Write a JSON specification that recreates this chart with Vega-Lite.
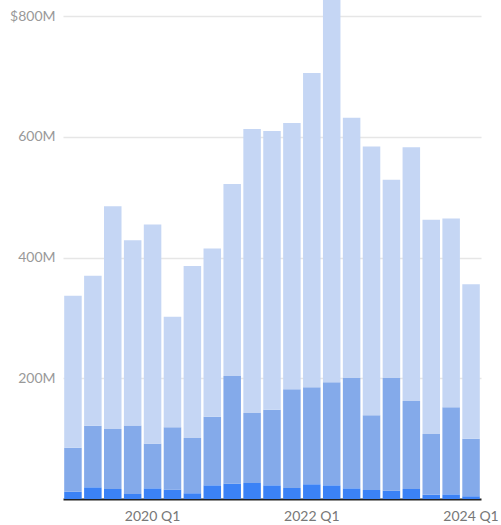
{
  "$schema": "https://vega.github.io/schema/vega-lite/v6.json",
  "autosize": {"type": "none"},
  "padding": {"left": 63, "top": 0, "right": 20, "bottom": 26},
  "width": 418,
  "height": 499,
  "config": {
    "view": {"stroke": null},
    "font": "Lato"
  },
  "datasets": {
    "rows": [
      {"quarter": "2019 Q1", "segment": "c", "rank": 1, "value": 12},
      {"quarter": "2019 Q1", "segment": "b", "rank": 2, "value": 73},
      {"quarter": "2019 Q1", "segment": "a", "rank": 3, "value": 252},
      {"quarter": "2019 Q2", "segment": "c", "rank": 1, "value": 19.4},
      {"quarter": "2019 Q2", "segment": "b", "rank": 2, "value": 102.1},
      {"quarter": "2019 Q2", "segment": "a", "rank": 3, "value": 248.5},
      {"quarter": "2019 Q3", "segment": "c", "rank": 1, "value": 16.6},
      {"quarter": "2019 Q3", "segment": "b", "rank": 2, "value": 99.4},
      {"quarter": "2019 Q3", "segment": "a", "rank": 3, "value": 369},
      {"quarter": "2019 Q4", "segment": "c", "rank": 1, "value": 8.3},
      {"quarter": "2019 Q4", "segment": "b", "rank": 2, "value": 113.7},
      {"quarter": "2019 Q4", "segment": "a", "rank": 3, "value": 307},
      {"quarter": "2020 Q1", "segment": "c", "rank": 1, "value": 17.7},
      {"quarter": "2020 Q1", "segment": "b", "rank": 2, "value": 74},
      {"quarter": "2020 Q1", "segment": "a", "rank": 3, "value": 363.3},
      {"quarter": "2020 Q2", "segment": "c", "rank": 1, "value": 15.5},
      {"quarter": "2020 Q2", "segment": "b", "rank": 2, "value": 103.5},
      {"quarter": "2020 Q2", "segment": "a", "rank": 3, "value": 183},
      {"quarter": "2020 Q3", "segment": "c", "rank": 1, "value": 9.4},
      {"quarter": "2020 Q3", "segment": "b", "rank": 2, "value": 91.6},
      {"quarter": "2020 Q3", "segment": "a", "rank": 3, "value": 285},
      {"quarter": "2020 Q4", "segment": "c", "rank": 1, "value": 22.7},
      {"quarter": "2020 Q4", "segment": "b", "rank": 2, "value": 113.8},
      {"quarter": "2020 Q4", "segment": "a", "rank": 3, "value": 278.5},
      {"quarter": "2021 Q1", "segment": "c", "rank": 1, "value": 25.4},
      {"quarter": "2021 Q1", "segment": "b", "rank": 2, "value": 178.6},
      {"quarter": "2021 Q1", "segment": "a", "rank": 3, "value": 318},
      {"quarter": "2021 Q2", "segment": "c", "rank": 1, "value": 26.5},
      {"quarter": "2021 Q2", "segment": "b", "rank": 2, "value": 116.1},
      {"quarter": "2021 Q2", "segment": "a", "rank": 3, "value": 470.4},
      {"quarter": "2021 Q3", "segment": "c", "rank": 1, "value": 22.7},
      {"quarter": "2021 Q3", "segment": "b", "rank": 2, "value": 125.3},
      {"quarter": "2021 Q3", "segment": "a", "rank": 3, "value": 462},
      {"quarter": "2021 Q4", "segment": "c", "rank": 1, "value": 18.2},
      {"quarter": "2021 Q4", "segment": "b", "rank": 2, "value": 163.8},
      {"quarter": "2021 Q4", "segment": "a", "rank": 3, "value": 441},
      {"quarter": "2022 Q1", "segment": "c", "rank": 1, "value": 24.4},
      {"quarter": "2022 Q1", "segment": "b", "rank": 2, "value": 160.6},
      {"quarter": "2022 Q1", "segment": "a", "rank": 3, "value": 521},
      {"quarter": "2022 Q2", "segment": "c", "rank": 1, "value": 22.7},
      {"quarter": "2022 Q2", "segment": "b", "rank": 2, "value": 170.8},
      {"quarter": "2022 Q2", "segment": "a", "rank": 3, "value": 666.5},
      {"quarter": "2022 Q3", "segment": "c", "rank": 1, "value": 17.7},
      {"quarter": "2022 Q3", "segment": "b", "rank": 2, "value": 182.9},
      {"quarter": "2022 Q3", "segment": "a", "rank": 3, "value": 431.4},
      {"quarter": "2022 Q4", "segment": "c", "rank": 1, "value": 15},
      {"quarter": "2022 Q4", "segment": "b", "rank": 2, "value": 124},
      {"quarter": "2022 Q4", "segment": "a", "rank": 3, "value": 445},
      {"quarter": "2023 Q1", "segment": "c", "rank": 1, "value": 13.8},
      {"quarter": "2023 Q1", "segment": "b", "rank": 2, "value": 186.8},
      {"quarter": "2023 Q1", "segment": "a", "rank": 3, "value": 328.4},
      {"quarter": "2023 Q2", "segment": "c", "rank": 1, "value": 16.6},
      {"quarter": "2023 Q2", "segment": "b", "rank": 2, "value": 145.9},
      {"quarter": "2023 Q2", "segment": "a", "rank": 3, "value": 420.5},
      {"quarter": "2023 Q3", "segment": "c", "rank": 1, "value": 7.2},
      {"quarter": "2023 Q3", "segment": "b", "rank": 2, "value": 100.6},
      {"quarter": "2023 Q3", "segment": "a", "rank": 3, "value": 355.2},
      {"quarter": "2023 Q4", "segment": "c", "rank": 1, "value": 7.7},
      {"quarter": "2023 Q4", "segment": "b", "rank": 2, "value": 144.3},
      {"quarter": "2023 Q4", "segment": "a", "rank": 3, "value": 313},
      {"quarter": "2024 Q1", "segment": "c", "rank": 1, "value": 4.4},
      {"quarter": "2024 Q1", "segment": "b", "rank": 2, "value": 95.6},
      {"quarter": "2024 Q1", "segment": "a", "rank": 3, "value": 256}
    ]
  },
  "data": {"name": "rows"},
  "mark": {"type": "bar", "clip": true},
  "encoding": {
    "x": {
      "field": "quarter",
      "type": "ordinal",
      "sort": null,
      "scale": {"paddingInner": 0.12, "paddingOuter": 0.06},
      "axis": {
        "title": null,
        "values": ["2020 Q1", "2022 Q1", "2024 Q1"],
        "labelAngle": 0,
        "ticks": false,
        "domainColor": "#222222",
        "domainWidth": 2,
        "labelColor": "#777777",
        "labelFontSize": 14,
        "labelPadding": 10,
        "labelFont": "Lato"
      }
    },
    "y": {
      "field": "value",
      "type": "quantitative",
      "stack": "zero",
      "scale": {"domain": [0, 827], "nice": false},
      "axis": {
        "title": null,
        "values": [200, 400, 600, 800],
        "labelExpr": "datum.value == 800 ? '$800M' : datum.value + 'M'",
        "domain": false,
        "ticks": false,
        "gridColor": "#e6e6e6",
        "gridWidth": 1.5,
        "labelColor": "#999999",
        "labelFontSize": 14,
        "labelPadding": 8,
        "labelFont": "Lato"
      }
    },
    "color": {
      "field": "segment",
      "type": "nominal",
      "scale": {"domain": ["a", "b", "c"], "range": ["#c5d6f4", "#84aaea", "#3b82f6"]},
      "legend": null
    },
    "order": {"field": "rank", "type": "quantitative"}
  }
}
